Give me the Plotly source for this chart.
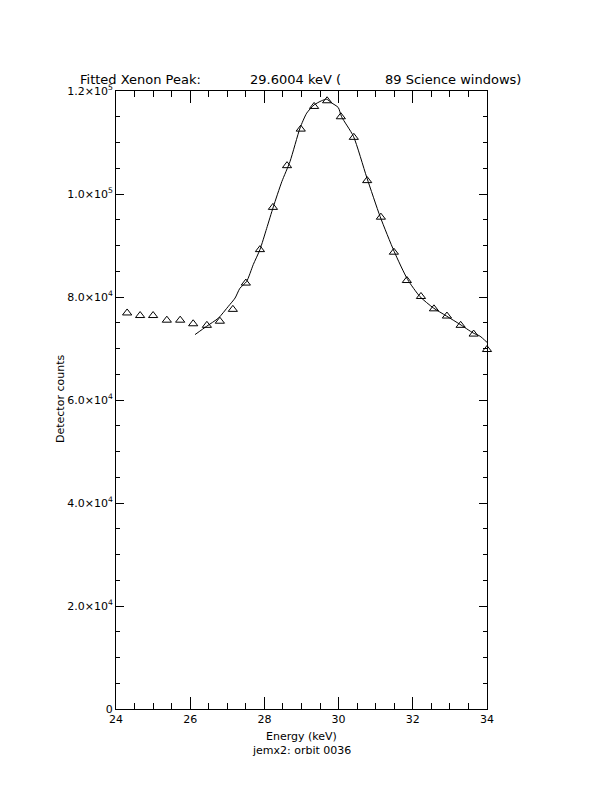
import plotly.graph_objects as go

# Measured data points (triangles)
energy_pts = [24.30, 24.65, 25.00, 25.37, 25.73, 26.08, 26.45, 26.80, 27.15, 27.50,
              27.88, 28.23, 28.61, 28.98, 29.34, 29.69, 30.06, 30.41, 30.77, 31.14,
              31.49, 31.84, 32.22, 32.57, 32.92, 33.29, 33.64, 34.00]
counts_pts = [76900, 76400, 76400, 75500, 75500, 74800, 74500, 75300, 77600, 82700,
              89200, 97400, 105500, 112600, 117000, 118100, 115000, 111000, 102600, 95500,
              88700, 83200, 80100, 77700, 76300, 74500, 72800, 69800]

# Fitted curve
energy_fit = [26.13, 26.44, 26.76, 27.03, 27.21, 27.34, 27.52, 27.70, 27.88, 28.06,
              28.24, 28.47, 28.69, 28.96, 29.14, 29.34, 29.54, 29.68, 29.81, 29.99,
              30.08, 30.40, 30.76, 31.12, 31.50, 31.86, 32.19, 32.55, 32.91, 33.27,
              33.63, 33.81, 34.00]
counts_fit = [72700, 74300, 75900, 78200, 79800, 81700, 83000, 86300, 89200, 93300,
              97500, 102400, 106300, 112800, 115700, 117300, 118100, 118400, 117700, 116800,
              115000, 111200, 103200, 95600, 88800, 83400, 80100, 77900, 76300, 74700,
              73000, 72400, 71200]

x_tickvals = [24, 26, 28, 30, 32, 34]
x_ticktext = ["24", "26", "28", "30", "32", "34"]
y_tickvals = [0, 20000, 40000, 60000, 80000, 100000, 120000]
y_ticktext = ["0", "2.0×10<sup>4</sup>", "4.0×10<sup>4</sup>", "6.0×10<sup>4</sup>",
              "8.0×10<sup>4</sup>", "1.0×10<sup>5</sup>", "1.2×10<sup>5</sup>"]

FONT = "DejaVu Sans"

fig = go.Figure()
fig.add_trace(go.Scatter(x=energy_pts, y=counts_pts, mode="markers",
                         marker=dict(symbol="triangle-up-open", size=8,
                                     color="black", line=dict(width=1, color="black")),
                         showlegend=False, cliponaxis=False))
fig.add_trace(go.Scatter(x=energy_fit, y=counts_fit, mode="lines",
                         line=dict(color="black", width=1, shape="spline", smoothing=0.6),
                         showlegend=False))

# target plot-area position in the page (page has 8px body margin)
OFF = 8
L, R, T, B = 116, 487, 91, 709
W, H = 612, 792

fig.update_layout(
    width=W, height=H,
    margin=dict(l=L - OFF, r=W - (R - OFF), t=T - OFF, b=H - (B - OFF), pad=0),
    paper_bgcolor="white", plot_bgcolor="white",
    font=dict(family=FONT, size=11, color="black"),
    xaxis=dict(range=[24, 34], tickvals=x_tickvals, ticktext=x_ticktext,
               ticks="inside", ticklen=12, tickwidth=1, tickcolor="black",
               showline=True, linecolor="black", linewidth=1, mirror="ticks",
               showgrid=False, zeroline=False,
               minor=dict(dtick=0.5, ticks="inside", ticklen=6, tickcolor="black", showgrid=False),
               tickfont=dict(family=FONT, size=11, color="black")),
    yaxis=dict(range=[0, 120000], tickvals=y_tickvals, ticktext=y_ticktext,
               ticks="inside", ticklen=8, tickwidth=1, tickcolor="black",
               showline=True, linecolor="black", linewidth=1, mirror="ticks",
               showgrid=False, zeroline=False,
               minor=dict(dtick=5000, ticks="inside", ticklen=4, tickcolor="black", showgrid=False),
               tickfont=dict(family=FONT, size=11, color="black")),
)

def px(xp):
    return (xp - L) / (R - L)

def py(yp):
    return (B - yp) / (B - T)

ann = [
    dict(text="Fitted Xenon Peak:", x=px(78), y=py(79), xanchor="left", yanchor="middle", size=13),
    dict(text="29.6004 keV (", x=px(248), y=py(79), xanchor="left", yanchor="middle", size=13),
    dict(text="89 Science windows)", x=px(383), y=py(79), xanchor="left", yanchor="middle", size=13),
    dict(text="Energy (keV)", x=px(301), y=py(736), xanchor="center", yanchor="middle", size=11),
    dict(text="jemx2: orbit 0036", x=px(301), y=py(750), xanchor="center", yanchor="middle", size=11),
]
for a in ann:
    fig.add_annotation(text=a["text"], x=a["x"], y=a["y"], xref="paper", yref="paper",
                       xanchor=a["xanchor"], yanchor=a["yanchor"], showarrow=False,
                       font=dict(family=FONT, size=a["size"], color="black"))
fig.add_annotation(text="Detector counts", x=px(60), y=py(399), xref="paper", yref="paper",
                   textangle=-90, xanchor="center", yanchor="middle", showarrow=False,
                   font=dict(family=FONT, size=11, color="black"))

fig.write_html("out.html")
